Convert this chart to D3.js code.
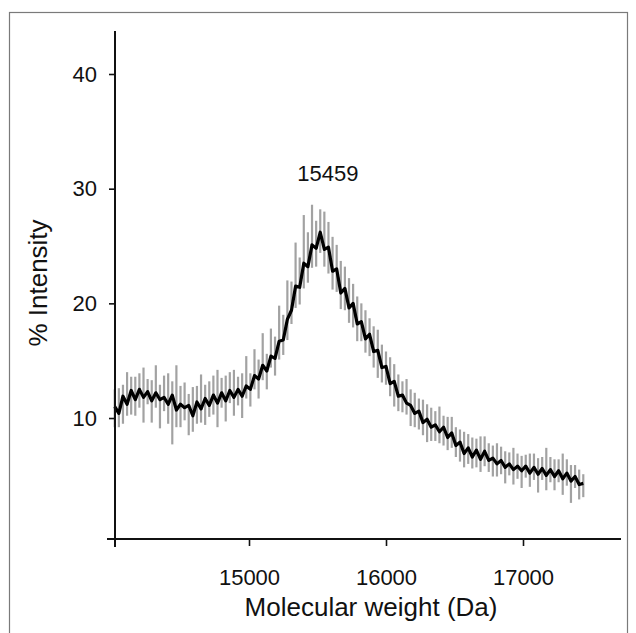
<!DOCTYPE html>
<html>
<head>
<meta charset="utf-8">
<script src="https://cdn.jsdelivr.net/npm/d3@7"></script>
<style>
  body { margin: 0; background: #fff; }
  svg { display: block; font-family: "Liberation Sans", Arial, sans-serif; }
</style>
</head>
<body>
<div id="chart"></div>
<script>
// sampling of the spectrum: first mass and step (Da)
const massStart = 14020;
const massStep = 30;

// intensity (%), one per sample
const intensity = [
  11.0, 10.4, 11.9, 11.2, 12.4, 11.6, 12.5, 11.8, 12.3, 11.5,
  12.2, 11.6, 11.8, 11.2, 12.0, 10.7, 11.2, 10.9, 11.1, 10.2,
  11.4, 10.8, 11.7, 11.1, 12.0, 11.3, 12.2, 11.5, 12.4, 11.8,
  12.5, 11.9, 12.8, 12.5, 13.7, 13.4, 14.6, 14.1, 15.4, 15.2,
  16.7, 16.8, 18.6, 19.4, 21.5, 21.4, 23.5, 23.2, 25.1, 24.8,
  26.2, 24.7, 24.9, 22.8, 23.0, 20.9, 21.3, 19.6, 20.0, 18.2,
  18.4, 16.9, 17.3, 15.8, 15.9, 14.4, 14.5, 13.0, 13.2, 11.9,
  12.0, 11.3, 11.1, 10.4, 10.6, 9.6, 9.9, 9.2, 9.4, 8.8,
  9.2, 8.3, 8.7, 7.6, 7.9, 6.9, 7.4, 6.6, 7.2, 6.4,
  7.1, 6.3, 6.5, 6.0, 6.3, 5.7, 6.0, 5.5, 5.8, 5.4,
  5.8, 5.2, 5.7, 5.1, 5.6, 5.0, 5.5, 4.9, 5.4, 4.7,
  5.2, 4.5, 4.9, 4.2, 4.3
];

// how far the grey noise spikes reach above / below the trace
const spikeUp = [
  1.5, 2.2, 1.0, 2.8, 1.2, 2.0, 1.4, 2.6, 1.1, 1.8,
  2.4, 1.3, 1.9, 2.7, 1.2, 3.9, 1.6, 2.2, 1.0, 2.5,
  1.4, 3.0, 1.2, 2.1, 1.7, 2.9, 1.3, 2.2, 1.6, 2.4,
  1.1, 2.0, 2.6, 1.4, 2.3, 1.7, 2.8, 1.5, 2.4, 1.9,
  3.1, 2.2, 3.4, 2.5, 3.8, 2.6, 4.2, 3.0, 3.5, 2.4,
  2.0, 3.3, 2.2, 3.0, 2.1, 2.8, 1.9, 2.6, 1.7, 2.4,
  1.6, 2.5, 1.4, 2.2, 1.8, 2.0, 1.3, 2.3, 1.5, 1.9,
  1.2, 2.1, 1.4, 1.8, 1.1, 2.0, 1.3, 1.7, 1.2, 2.2,
  1.0, 1.8, 1.4, 1.6, 1.1, 1.9, 1.2, 1.7, 1.0, 2.0,
  1.3, 1.5, 1.1, 1.8, 1.2, 1.4, 1.0, 1.9, 1.1, 1.3,
  1.0, 1.7, 1.2, 1.4, 1.0, 2.4, 1.1, 1.5, 1.0, 2.2,
  1.2, 1.4, 1.0, 1.3, 0.8
];
const spikeDown = [
  1.8, 1.2, 2.4, 1.0, 2.1, 1.4, 1.6, 2.2, 1.1, 1.9,
  1.3, 2.5, 1.2, 1.7, 4.3, 1.5, 2.0, 1.1, 2.6, 1.4,
  1.9, 1.2, 2.3, 1.0, 1.7, 2.1, 1.3, 1.8, 1.1, 1.6,
  1.4, 1.9, 1.1, 1.5, 1.2, 1.7, 1.3, 1.6, 1.0, 1.5,
  1.6, 1.3, 1.8, 1.2, 1.9, 1.5, 2.2, 1.4, 2.0, 1.6,
  1.8, 1.5, 2.3, 1.6, 2.0, 1.4, 1.9, 1.3, 2.1, 1.5,
  1.7, 1.2, 1.9, 1.4, 2.4, 1.3, 1.6, 1.1, 2.2, 1.3,
  1.5, 1.0, 1.8, 1.2, 1.6, 1.1, 2.0, 1.2, 1.4, 1.0,
  1.6, 1.1, 1.3, 1.0, 1.7, 1.2, 1.4, 1.0, 1.5, 1.1,
  1.3, 1.0, 1.6, 1.1, 1.2, 1.4, 1.0, 1.3, 1.1, 1.5,
  1.0, 1.2, 1.1, 1.6, 1.0, 1.3, 1.1, 1.2, 1.0, 1.4,
  1.1, 1.9, 1.0, 1.3, 1.2
];

const xTicks = [15000, 16000, 17000];
const yTicks = [10, 20, 30, 40];
const peakLabel = { mass: 15459, text: '15459' };

const width = 636;
const height = 633;

const data = intensity.map((v, i) => ({
  mass: massStart + i * massStep,
  value: v,
  hi: v + spikeUp[i],
  lo: v - spikeDown[i]
}));

const svg = d3.select('#chart')
  .append('svg')
  .attr('width', width)
  .attr('height', height);

svg.append('rect')
  .attr('width', width)
  .attr('height', height)
  .attr('fill', '#fff');

// thin frame round the figure (bottom runs off the picture)
svg.append('rect')
  .attr('x', 9.5)
  .attr('y', 12.5)
  .attr('width', 618)
  .attr('height', 640)
  .attr('fill', 'none')
  .attr('stroke', '#7a7a7a')
  .attr('stroke-width', 1.2);

const x = d3.scaleLinear().domain([14000, 17000]).range([112, 523]);
const y = d3.scaleLinear().domain([0, 40]).range([532.7, 74]);

const axisX = 115;
const axisY = 539;

// blur a touch so the trace looks like the scanned original
const defs = svg.append('defs');
defs.append('filter')
  .attr('id', 'soft')
  .append('feGaussianBlur')
  .attr('stdDeviation', 0.7);

const plot = svg.append('g').attr('filter', 'url(#soft)');

plot.selectAll('line.spike')
  .data(data)
  .enter()
  .append('line')
  .attr('class', 'spike')
  .attr('x1', (d) => x(d.mass))
  .attr('x2', (d) => x(d.mass))
  .attr('y1', (d) => y(d.lo))
  .attr('y2', (d) => y(d.hi))
  .attr('stroke', '#7a7a7a')
  .attr('stroke-opacity', 0.7)
  .attr('stroke-width', 2.2);

plot.append('path')
  .datum(data)
  .attr('d', d3.line().x((d) => x(d.mass)).y((d) => y(d.value)))
  .attr('fill', 'none')
  .attr('stroke', '#000')
  .attr('stroke-width', 3.2)
  .attr('stroke-linejoin', 'round');

// axes: lines cross at the origin and overshoot a little
svg.append('line')
  .attr('x1', axisX).attr('x2', axisX)
  .attr('y1', 31).attr('y2', axisY + 8)
  .attr('stroke', '#111').attr('stroke-width', 2);
svg.append('line')
  .attr('x1', axisX - 8).attr('x2', 621)
  .attr('y1', axisY).attr('y2', axisY)
  .attr('stroke', '#111').attr('stroke-width', 2);

const yAxis = svg.append('g')
  .attr('transform', `translate(${axisX},0)`)
  .call(d3.axisLeft(y).tickValues(yTicks).tickSize(6).tickPadding(12));
yAxis.select('.domain').remove();

const xAxis = svg.append('g')
  .attr('transform', `translate(0,${axisY})`)
  .call(d3.axisBottom(x).tickValues(xTicks).tickFormat(d3.format('d')).tickSize(7).tickPadding(23));
xAxis.select('.domain').remove();

svg.selectAll('.tick line').attr('stroke', '#111').attr('stroke-width', 1.6);
svg.selectAll('.tick text')
  .attr('fill', '#111')
  .style('font-size', '22px')
  .style('font-family', '"Liberation Sans", Arial, sans-serif');

svg.append('text')
  .attr('x', 371)
  .attr('y', 616)
  .attr('text-anchor', 'middle')
  .attr('fill', '#111')
  .style('font-size', '26px')
  .text('Molecular weight (Da)');

svg.append('text')
  .attr('transform', 'translate(47,283) rotate(-90)')
  .attr('text-anchor', 'middle')
  .attr('fill', '#111')
  .style('font-size', '26px')
  .text('% Intensity');

svg.append('text')
  .attr('x', x(peakLabel.mass) + 16)
  .attr('y', 181)
  .attr('text-anchor', 'middle')
  .attr('fill', '#111')
  .style('font-size', '22px')
  .text(peakLabel.text);
</script>
</body>
</html>
